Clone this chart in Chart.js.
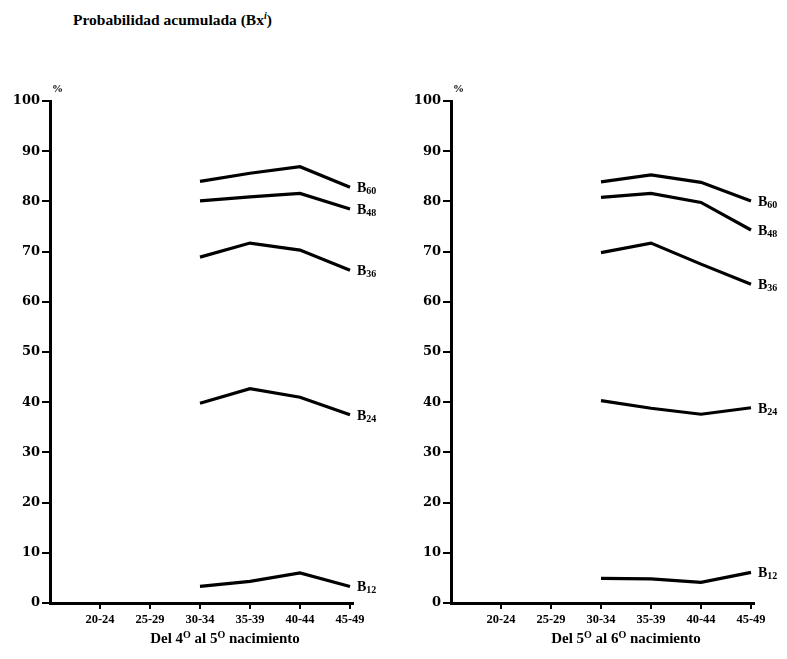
<!DOCTYPE html>
<html>
<head>
<meta charset="utf-8">
<script src="https://cdn.jsdelivr.net/npm/chart.js@4.4.1/dist/chart.umd.min.js"></script>
<style>
    body { margin: 0; background: #fff; }
    .page { position: relative; width: 787px; height: 659px; overflow: hidden; }
    .title { position: absolute; left: 73px; top: 10px; font: bold 15.5px "Liberation Serif", serif; color: #000; }
    .title sup { font-style: italic; font-size: 10px; }
    .panel { position: absolute; top: 0; }
</style>
</head>
<body>
<div class="page">
    <div class="title">Probabilidad acumulada (Bx<sup>i</sup>)</div>
    <div class="panel" style="left:0px"><canvas id="chart-4to5" width="400" height="659"></canvas></div>
    <div class="panel" style="left:400px"><canvas id="chart-5to6" width="387" height="659"></canvas></div>
</div>
<script>
// Age groups on the x axis
var ageGroups = ['20-24', '25-29', '30-34', '35-39', '40-44', '45-49'];
// Groups that carry values (the lines start at 30-34)
var plottedGroups = ['30-34', '35-39', '40-44', '45-49'];
var yTicks = [0, 10, 20, 30, 40, 50, 60, 70, 80, 90, 100];
var seriesSubs = ['60', '48', '36', '24', '12'];

// Del 4o al 5o nacimiento (%)
var b60_4to5 = [84.0, 85.6, 86.9, 82.8];
var b48_4to5 = [80.1, 80.9, 81.6, 78.5];
var b36_4to5 = [68.9, 71.7, 70.3, 66.3];
var b24_4to5 = [39.8, 42.7, 41.0, 37.5];
var b12_4to5 = [3.3, 4.3, 6.0, 3.3];

// Del 5o al 6o nacimiento (%)
var b60_5to6 = [83.9, 85.3, 83.8, 80.1];
var b48_5to6 = [80.8, 81.6, 79.8, 74.3];
var b36_5to6 = [69.8, 71.7, 67.5, 63.5];
var b24_5to6 = [40.3, 38.8, 37.6, 38.9];
var b12_5to6 = [4.9, 4.8, 4.1, 6.1];

var SERIF = '"Liberation Serif", "DejaVu Serif", serif';

function toPoints(values) {
    return values.map(function(v, i) {
        return { x: ageGroups.indexOf(plottedGroups[i]) + 1, y: v };
    });
}

// End labels (B with subscript), the % sign and the x title with superscripts
var annotations = {
    id: 'annotations',
    afterDatasetsDraw: function(chart, args, opts) {
        var ctx = chart.ctx;
        var area = chart.chartArea;
        ctx.save();
        ctx.fillStyle = '#000';
        ctx.textBaseline = 'alphabetic';

        chart.data.datasets.forEach(function(ds, i) {
            var pts = chart.getDatasetMeta(i).data;
            var p = pts[pts.length - 1];
            var x = p.x + 7;
            var y = p.y + 5;
            ctx.font = 'bold 14px ' + SERIF;
            ctx.fillText('B', x, y);
            x += ctx.measureText('B').width;
            ctx.font = 'bold 10px ' + SERIF;
            ctx.fillText(seriesSubs[i], x, y + 2);
        });

        // % above the y axis
        ctx.font = 'bold 11px ' + SERIF;
        ctx.fillText('%', area.left + 2, area.top - 9);

        // x axis title
        var parts = opts.titleParts;
        var fontFor = function(sup) { return (sup ? 'bold 10px ' : 'bold 15px ') + SERIF; };
        var widths = parts.map(function(part) {
            ctx.font = fontFor(part[1]);
            return ctx.measureText(part[0]).width;
        });
        var total = widths.reduce(function(a, b) { return a + b; }, 0);
        var cx = chart.scales.x.getPixelForValue(3.5);
        var tx = cx - total / 2;
        var ty = 643;
        parts.forEach(function(part, k) {
            ctx.font = fontFor(part[1]);
            ctx.fillText(part[0], tx, part[1] ? ty - 5 : ty);
            tx += widths[k];
        });
        ctx.restore();
    }
};

function makeChart(id, series, yWidth, rightPad, titleParts) {
    var ctx = document.getElementById(id).getContext('2d');
    return new Chart(ctx, {
        type: 'line',
        data: {
            datasets: series.map(function(values) {
                return {
                    data: toPoints(values),
                    borderColor: '#000',
                    borderWidth: 3.2,
                    pointRadius: 0,
                    tension: 0,
                    fill: false,
                    clip: false
                };
            })
        },
        options: {
            responsive: false,
            animation: false,
            devicePixelRatio: 1,
            layout: { padding: { top: 101, right: rightPad, left: 0, bottom: 0 } },
            plugins: {
                legend: { display: false },
                tooltip: { enabled: false },
                annotations: { titleParts: titleParts }
            },
            scales: {
                x: {
                    type: 'linear',
                    min: 0,
                    max: 6.06,
                    afterFit: function(scale) { scale.height = 56; },
                    afterBuildTicks: function(scale) {
                        scale.ticks = ageGroups.map(function(g, i) { return { value: i + 1 }; });
                    },
                    ticks: {
                        color: '#000',
                        padding: 3,
                        maxRotation: 0,
                        font: { family: SERIF, weight: 'bold', size: 12.5 },
                        callback: function(v) { return ageGroups[v - 1]; }
                    },
                    grid: { drawOnChartArea: false, color: '#000', lineWidth: 2, tickLength: 6 },
                    border: { color: '#000', width: 3 }
                },
                y: {
                    min: 0,
                    max: 100,
                    afterFit: function(scale) { scale.width = yWidth; },
                    afterBuildTicks: function(scale) {
                        scale.ticks = yTicks.map(function(v) { return { value: v }; });
                    },
                    ticks: {
                        color: '#000',
                        padding: 2,
                        font: { family: '"DejaVu Serif", serif', weight: 'bold', size: 13 }
                    },
                    grid: { drawOnChartArea: false, color: '#000', lineWidth: 2, tickLength: 8 },
                    border: { color: '#000', width: 3 }
                }
            }
        },
        plugins: [annotations]
    });
}

makeChart('chart-4to5', [b60_4to5, b48_4to5, b36_4to5, b24_4to5, b12_4to5], 50, 47,
    [['Del 4', 0], ['O', 1], [' al 5', 0], ['O', 1], [' nacimiento', 0]]);
makeChart('chart-5to6', [b60_5to6, b48_5to6, b36_5to6, b24_5to6, b12_5to6], 51, 33,
    [['Del 5', 0], ['O', 1], [' al 6', 0], ['O', 1], [' nacimiento', 0]]);
</script>
</body>
</html>
